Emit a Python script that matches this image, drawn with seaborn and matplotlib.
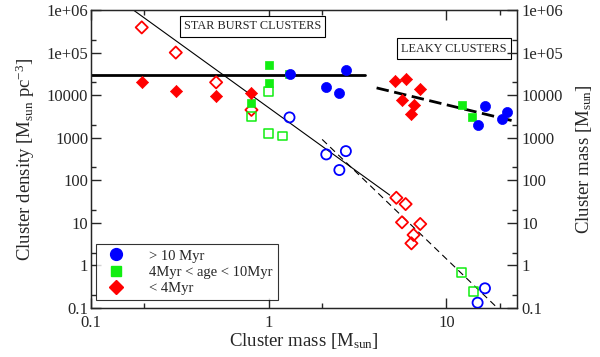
import numpy as np
import seaborn as sns
import matplotlib.pyplot as plt
from matplotlib.lines import Line2D
from matplotlib.ticker import FixedLocator, NullFormatter

# ---- datos ----
# > 10 Myr (azul): relleno = masa, vacio = densidad
old_mass_x = [1.31, 2.11, 2.5, 2.73, 15.0, 16.5, 20.5, 22.0]
old_mass_y = [3.1e4, 1.57e4, 1.1e4, 3.9e4, 2.0e3, 5.5e3, 2.7e3, 4.1e3]
old_dens_x = [1.31, 2.11, 2.5, 2.72, 15.0, 16.5]
old_dens_y = [3.0e3, 405, 174, 484, 0.133, 0.29]

# 4Myr < age < 10Myr (verde)
mid_mass_x = [0.80, 1.0, 1.0, 1.3, 12.3, 14.0]
mid_mass_y = [6.4e3, 5.0e4, 1.95e4, 3.2e4, 5.9e3, 3.0e3]
mid_dens_x = [0.80, 1.0, 1.0, 1.2, 12.2, 14.2]
mid_dens_y = [3.1e3, 1.24e4, 1.25e3, 1.1e3, 0.67, 0.24]

# < 4Myr (rojo)
young_mass_x = [0.193, 0.30, 0.506, 0.80, 5.17, 5.9, 7.13, 5.63, 6.54, 6.29]
young_mass_y = [2.0e4, 1.22e4, 9.8e3, 1.1e4, 2.2e4, 2.4e4, 1.38e4, 7.6e3, 5.8e3, 3.6e3]
young_dens_x = [0.193, 0.30, 0.506, 0.80, 5.23, 5.9, 5.63, 7.13, 6.54, 6.36]
young_dens_y = [3.9e5, 1.0e5, 2.0e4, 4.5e3, 38.8, 27.6, 10.3, 9.4, 5.2, 3.3]

# rectas de ajuste (extremos)
flat_x, flat_y = [0.1, 3.5], [3.0e4, 3.0e4]
slope3_x, slope3_y = [0.173, 4.8], [1.0e6, 45]
slope4_x, slope4_y = [2.0, 19.4], [912, 0.1]
leaky_x, leaky_y = [4.05, 25.0], [1.48e4, 2.36e3]

labels = ["> 10 Myr", "4Myr < age < 10Myr", "< 4Myr"]
blue, green, red = "#0000ff", "#11ee11", "#ff0000"

sns.set_style("ticks")
plt.rcParams['font.family'] = ['Liberation Serif', 'DejaVu Serif']
plt.rcParams['mathtext.fontset'] = 'custom'
plt.rcParams['mathtext.rm'] = 'Liberation Serif'
plt.rcParams['mathtext.it'] = 'Liberation Serif:italic'

fig = plt.figure(figsize=(6, 3.57), dpi=100)
ax = fig.add_axes([0.1517, 0.1373, 0.71, 0.8347])

# lineas
sns.lineplot(x=flat_x, y=flat_y, ax=ax, color="black", lw=2)
sns.lineplot(x=slope3_x, y=slope3_y, ax=ax, color="black", lw=0.8)
sns.lineplot(x=slope4_x, y=slope4_y, ax=ax, color="black", lw=0.8, linestyle=(0, (6, 4)))
sns.lineplot(x=leaky_x, y=leaky_y, ax=ax, color="black", lw=2, linestyle=(0, (4.5, 2)))

# marcadores vacios (densidad)
ms = 48
sns.scatterplot(x=young_dens_x, y=young_dens_y, ax=ax, marker="D", s=ms * 0.8,
                facecolor="none", edgecolor=red, linewidth=1.3, zorder=3)
sns.scatterplot(x=mid_dens_x, y=mid_dens_y, ax=ax, marker="s", s=ms * 0.85,
                facecolor="none", edgecolor=green, linewidth=1.1, zorder=3)
sns.scatterplot(x=old_dens_x, y=old_dens_y, ax=ax, marker="o", s=ms * 1.1,
                facecolor="none", edgecolor=blue, linewidth=1.3, zorder=3)

# marcadores rellenos (masa)
sns.scatterplot(x=mid_mass_x, y=mid_mass_y, ax=ax, marker="s", s=ms * 0.85,
                color=green, edgecolor=green, linewidth=0.5, zorder=4)
sns.scatterplot(x=young_mass_x, y=young_mass_y, ax=ax, marker="D", s=ms * 0.8,
                color=red, edgecolor=red, linewidth=0.5, zorder=4)
sns.scatterplot(x=old_mass_x, y=old_mass_y, ax=ax, marker="o", s=ms * 1.1,
                color=blue, edgecolor=blue, linewidth=0.5, zorder=5)

ax.set_xscale("log")
ax.set_yscale("log")
ax.set_xlim(0.1, 25)
ax.set_ylim(0.1, 1e6)

yticks = [0.1, 1, 10, 100, 1000, 10000, 1e5, 1e6]
ytick_labels = ["0.1", "1", "10", "100", "1000", "10000", "1e+05", "1e+06"]
xticks = [0.1, 1, 10]
xtick_labels = ["0.1", "1", "10"]

ax.set_xticks(xticks)
ax.set_xticklabels(xtick_labels)
ax.set_yticks(yticks)
ax.set_yticklabels(ytick_labels)
ax.xaxis.set_minor_locator(FixedLocator([0.2, 2, 20]))
ax.yaxis.set_minor_locator(FixedLocator([2 * t for t in yticks[:-1]]))
ax.xaxis.set_minor_formatter(NullFormatter())
ax.yaxis.set_minor_formatter(NullFormatter())
ax.tick_params(which="both", direction="in", top=True, right=False, labelsize=12, width=1)
ax.tick_params(which="major", length=7)
ax.tick_params(which="minor", length=3.5)
ax.tick_params(axis="y", pad=2)
ax.tick_params(axis="x", pad=5)
for sp in ax.spines.values():
    sp.set_linewidth(1)

ax.set_xlabel(r"Cluster mass [M$_{\rm sun}$]", fontsize=13.5, labelpad=0)
ax.set_ylabel(r"Cluster density [M$_{\rm sun}$ pc$^{-3}$]", fontsize=13.5, labelpad=7)

# eje derecho (misma escala)
ax2 = ax.twinx()
ax2.set_yscale("log")
ax2.set_ylim(0.1, 1e6)
ax2.set_yticks(yticks)
ax2.set_yticklabels(ytick_labels)
ax2.yaxis.set_minor_locator(FixedLocator([2 * t for t in yticks[:-1]]))
ax2.yaxis.set_minor_formatter(NullFormatter())
ax2.tick_params(which="both", direction="in", labelsize=12, width=1, pad=3)
ax2.tick_params(which="major", length=7)
ax2.tick_params(which="minor", length=3.5)
ax2.set_ylabel(r"Cluster mass [M$_{\rm sun}$]", fontsize=13.5, labelpad=8)

# cajas de texto
box = dict(boxstyle="square,pad=0.35", fc="white", ec="black", lw=0.8)
ax.text(0.379, 0.945, "STAR BURST CLUSTERS", transform=ax.transAxes, fontsize=8.8,
        ha="center", va="center", bbox=box, zorder=6)
ax.text(0.851, 0.870, "LEAKY CLUSTERS", transform=ax.transAxes, fontsize=8.8,
        ha="center", va="center", bbox=box, zorder=6)

# leyenda
handles = [
    Line2D([], [], marker="o", ls="none", color=blue, markersize=8.5),
    Line2D([], [], marker="s", ls="none", color=green, markersize=7.5),
    Line2D([], [], marker="D", ls="none", color=red, markersize=7),
]
leg = ax.legend(handles, labels, loc="lower left", bbox_to_anchor=(0.012, 0.027),
                borderaxespad=0, fontsize=10.5, frameon=True, fancybox=False,
                handletextpad=1.3, labelspacing=0.2, borderpad=0.35)
leg.get_frame().set_edgecolor("black")
leg.get_frame().set_linewidth(0.8)
leg.set_zorder(7)

fig.savefig("out.png", dpi=100)
